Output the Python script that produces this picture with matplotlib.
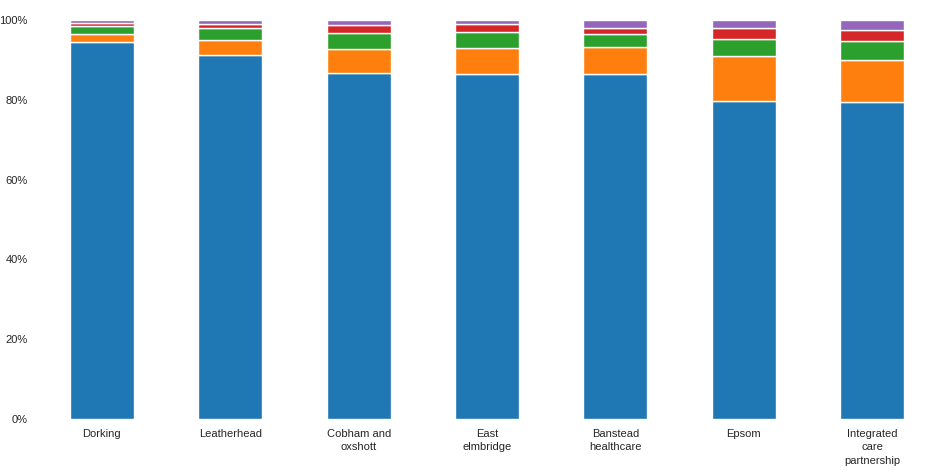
import numpy as np
import matplotlib
matplotlib.use('Agg')
import matplotlib.pyplot as plt
from matplotlib.ticker import PercentFormatter

plt.rcParams['font.family'] = ['Liberation Sans', 'DejaVu Sans']

practices = ['Dorking', 'Leatherhead', 'Cobham and\noxshott', 'East\nelmbridge',
             'Banstead\nhealthcare', 'Epsom', 'Integrated\ncare\npartnership']

# share of each category per practice, in percent
blue = [94.6, 91.2, 86.6, 86.5, 86.5, 79.6, 79.4]
orange = [1.9, 3.8, 6.1, 6.5, 6.7, 11.4, 10.6]
green = [2.0, 2.9, 4.0, 4.0, 3.3, 4.2, 4.7]
red = [0.8, 1.1, 2.0, 2.1, 1.6, 2.9, 2.7]
purple = [0.7, 1.0, 1.3, 0.9, 1.9, 1.9, 2.6]

series = [blue, orange, green, red, purple]
colors = ['#1f77b4', '#ff7f0e', '#2ca02c', '#d62728', '#9467bd']

fig = plt.figure(figsize=(9.42, 4.76), dpi=100)
ax = fig.add_axes([0.040, 0.1197, 0.954, 0.8383])

x = np.arange(len(practices))
bottom = np.zeros(len(practices))
for vals, c in zip(series, colors):
    vals = np.array(vals)
    ax.bar(x, vals, width=0.5, bottom=bottom, color=c, edgecolor='white', linewidth=1)
    bottom += vals

ax.set_xlim(-0.5, len(practices) - 0.5)
ax.set_ylim(0, 100)
ax.set_yticks([0, 20, 40, 60, 80, 100])
ax.yaxis.set_major_formatter(PercentFormatter(decimals=0))
ax.set_xticks(x)
ax.set_xticklabels(practices, fontsize=8, color='#262626', linespacing=1.45)
ax.tick_params(axis='y', labelsize=8, labelcolor='#262626', length=0, pad=7)
ax.tick_params(axis='x', length=0, pad=7)
for s in ax.spines.values():
    s.set_visible(False)

fig.savefig('out.png', dpi=100)
